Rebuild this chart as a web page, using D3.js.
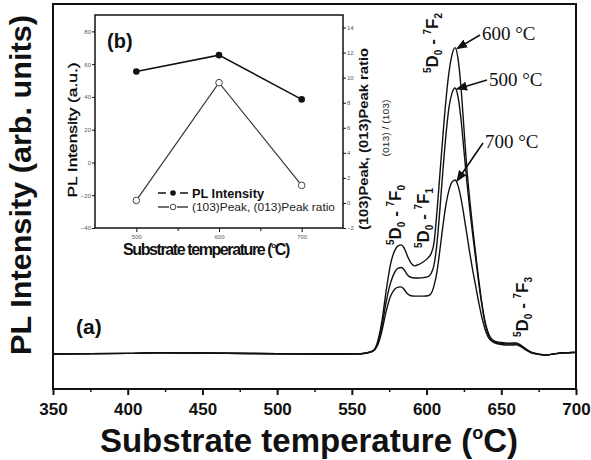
<!DOCTYPE html>
<html>
<head>
<meta charset="utf-8">
<script src="https://cdn.jsdelivr.net/npm/d3@7/dist/d3.min.js"></script>
<style>
  body { margin: 0; background: #fff; }
  svg { display: block; }
</style>
</head>
<body>
<svg id="chart" width="591" height="460"></svg>
<script>
// main spectra (a): wavelength grid and PL intensity for each substrate temperature
const wavelengths = [350, 400, 420, 450, 500, 540, 556, 560, 564, 567,
  570, 573, 576, 579, 581, 583, 585, 587, 589, 592,
  595, 598, 601, 603, 605, 607, 609, 611, 613, 615,
  617, 619, 621, 623, 625, 627, 629, 631, 633, 635,
  637, 639, 641, 643, 646, 650, 655, 660, 663, 666,
  670, 675, 680, 685, 690, 695, 700];
const pl600 = [0, 0.2, 0.4, 0.3, 0.1, 0, 0.1, 0.4, 1, 3.5,
  10, 20, 28.5, 32.8, 34, 34.3, 33.3, 31, 29, 27.7,
  28.2, 29, 30.2, 31.5, 35, 45, 57, 69, 80, 88.5,
  94, 96.3, 93, 84, 71, 58, 48, 39, 31, 23,
  16, 10.5, 7, 5, 4, 3.6, 3.4, 3.5, 2.8, 1.8,
  0.6, 0, -0.3, 0, 0.3, 0.4, 0.5];
const pl500 = [0, 0.2, 0.4, 0.3, 0.1, 0, 0.1, 0.4, 0.9, 3,
  8.5, 16.5, 22.5, 26, 27, 27.2, 26.5, 25, 24.2, 23.9,
  23.9, 24, 24.3, 25.3, 28, 35, 46, 58, 69, 77.5,
  82, 83.6, 81, 74, 64, 54, 45, 37, 29.5, 22,
  15.5, 10, 6.5, 4.6, 3.7, 3.3, 3.1, 3.2, 2.6, 1.6,
  0.5, -0.1, -0.3, 0, 0.3, 0.4, 0.5];
const pl700 = [0, 0.2, 0.4, 0.3, 0.1, 0, 0.1, 0.3, 0.8, 2.5,
  7, 13.5, 18.3, 20.5, 21, 21.1, 20.3, 19, 18.4, 18.2,
  18.2, 18.2, 18.3, 19, 21.5, 26, 33, 40.5, 47, 51.5,
  54, 54.7, 53, 49, 43.5, 37.5, 31.5, 26, 21, 16,
  11.5, 8, 5.5, 4.2, 3.4, 3, 2.8, 2.9, 2.3, 1.4,
  0.4, -0.1, -0.3, 0, 0.3, 0.4, 0.5];
const seriesNames = ["600 °C", "500 °C", "700 °C"];
const xTicks = [350, 400, 450, 500, 550, 600, 650, 700];

// inset (b)
const insetTemps = [500, 600, 700];
const insetIntensity = [55.5, 65.5, 38.5];
const insetRatio = [0.2, 9.6, 1.4];
const insetLeftTicks = [-40, -20, 0, 20, 40, 60, 80];
const insetRightTicks = [-2, 0, 2, 4, 6, 8, 10, 12, 14];
const insetXTicks = [500, 600, 700];

const svg = d3.select("#chart");
const sans = "'Liberation Sans', Arial, sans-serif";
const serif = "'Liberation Serif', 'Times New Roman', serif";

const mLeft = 53, mRight = 576, mTop = 4, mBottom = 389;

const x = d3.scaleLinear().domain([350, 700]).range([mLeft, mRight]);
const y = d3.scaleLinear().domain([-11, 110]).range([mBottom, mTop]);

// frame
svg.append("rect")
    .attr("x", mLeft).attr("y", mTop)
    .attr("width", mRight - mLeft).attr("height", mBottom - mTop)
    .attr("fill", "none").attr("stroke", "#111").attr("stroke-width", 2);

// bottom axis, major + minor
const xAxis = svg.append("g")
    .attr("transform", `translate(0,${mBottom})`)
    .call(d3.axisBottom(x).tickValues(xTicks).tickSize(6).tickSizeOuter(0).tickPadding(8));
xAxis.select(".domain").remove();
xAxis.selectAll("line").attr("stroke", "#111").attr("stroke-width", 2);
xAxis.selectAll("text")
    .attr("font-family", sans).attr("font-weight", "bold")
    .attr("font-size", 17).attr("fill", "#111");

const xMinor = svg.append("g")
    .attr("transform", `translate(0,${mBottom})`)
    .call(d3.axisBottom(x).tickValues(d3.range(375, 700, 50)).tickSize(3).tickFormat(""));
xMinor.select(".domain").remove();
xMinor.selectAll("line").attr("stroke", "#111").attr("stroke-width", 1.5);

// axis titles
const xTitle = svg.append("text")
    .attr("x", 309).attr("y", 452)
    .attr("text-anchor", "middle")
    .attr("font-family", sans).attr("font-weight", "bold")
    .attr("font-size", 33).attr("fill", "#111");
xTitle.append("tspan").text("Substrate temperature (");
xTitle.append("tspan").attr("font-size", 18).attr("dy", -13).text("o");
xTitle.append("tspan").attr("dy", 13).text("C)");

svg.append("text")
    .attr("transform", "translate(31,185) rotate(-90)")
    .attr("text-anchor", "middle")
    .attr("font-family", sans).attr("font-weight", "bold")
    .attr("font-size", 30).attr("fill", "#111")
    .attr("textLength", 340).attr("lengthAdjust", "spacingAndGlyphs")
    .text("PL Intensity (arb. units)");

// spectra
const line = d3.line()
    .x((d, i) => x(wavelengths[i]))
    .y(d => y(d))
    .curve(d3.curveMonotoneX);

const spectra = [pl600, pl500, pl700];
svg.append("g").selectAll("path")
    .data(spectra)
    .join("path")
    .attr("d", line)
    .attr("fill", "none")
    .attr("stroke", "#111")
    .attr("stroke-width", 1.4);

// arrows to the peaks
svg.append("defs").append("marker")
    .attr("id", "arrow")
    .attr("viewBox", "0 0 10 10")
    .attr("refX", 9).attr("refY", 5)
    .attr("markerWidth", 7).attr("markerHeight", 7)
    .attr("orient", "auto")
    .append("path").attr("d", "M0,1 L10,5 L0,9 Z").attr("fill", "#111");

const labelPos = [[482, 40], [489, 86], [485, 148]];
const tailPos = [[480, 35], [487, 80], [483, 143]];
spectra.forEach((s, i) => {
    const k = d3.maxIndex(s);
    svg.append("line")
        .attr("x1", tailPos[i][0]).attr("y1", tailPos[i][1])
        .attr("x2", x(wavelengths[k]) + 2).attr("y2", y(s[k]) + 1)
        .attr("stroke", "#111").attr("stroke-width", 1.6)
        .attr("marker-end", "url(#arrow)");
    svg.append("text")
        .attr("x", labelPos[i][0]).attr("y", labelPos[i][1])
        .attr("font-family", serif).attr("font-size", 19).attr("fill", "#111")
        .text(seriesNames[i]);
});

// transition labels
function transition(bx, by, lower) {
    const t = svg.append("text")
        .attr("transform", `translate(${bx},${by}) rotate(-90)`)
        .attr("font-family", sans).attr("font-weight", "bold")
        .attr("font-size", 17).attr("fill", "#111");
    t.append("tspan").attr("font-size", 10).attr("dy", -7).text("5");
    t.append("tspan").attr("dy", 7).text("D");
    t.append("tspan").attr("font-size", 10).attr("dy", 4).text("0");
    t.append("tspan").attr("dy", -4).text(" - ");
    t.append("tspan").attr("font-size", 10).attr("dy", -7).text("7");
    t.append("tspan").attr("dy", 7).text("F");
    t.append("tspan").attr("font-size", 10).attr("dy", 4).text(lower);
}
transition(438, 73, "2");
transition(401, 245, "0");
transition(429, 248, "1");
transition(528, 337, "3");

svg.append("text")
    .attr("x", 76).attr("y", 334)
    .attr("font-family", sans).attr("font-weight", "bold")
    .attr("font-size", 21).attr("fill", "#111")
    .text("(a)");

// ---------- inset (b) ----------
const il = 95, ir = 343, it = 15, ib = 228;
const xi = d3.scaleLinear().domain([450, 750]).range([il, ir]);
const yiL = d3.scaleLinear().domain([-40, 90]).range([ib, it]);
const yiR = d3.scaleLinear().domain([-2, 15]).range([ib, it]);

svg.append("rect")
    .attr("x", il).attr("y", it)
    .attr("width", ir - il).attr("height", ib - it)
    .attr("fill", "#fff").attr("stroke", "#111").attr("stroke-width", 1.5);

function styleSmall(g) {
    g.select(".domain").remove();
    g.selectAll("line").attr("stroke", "#111").attr("stroke-width", 1);
    g.selectAll("text").attr("font-family", sans).attr("font-size", 6).attr("fill", "#555");
}
svg.append("g").attr("transform", `translate(0,${ib})`)
    .call(d3.axisBottom(xi).tickValues(insetXTicks).tickSize(4).tickPadding(3))
    .call(styleSmall);
svg.append("g").attr("transform", `translate(0,${ib})`)
    .call(d3.axisBottom(xi).tickValues([550, 650]).tickSize(3).tickFormat(""))
    .call(styleSmall);
svg.append("g").attr("transform", `translate(${il},0)`)
    .call(d3.axisLeft(yiL).tickValues(insetLeftTicks).tickSize(3).tickPadding(1))
    .call(styleSmall);
svg.append("g").attr("transform", `translate(${ir},0)`)
    .call(d3.axisRight(yiR).tickValues(insetRightTicks).tickSize(3).tickPadding(1))
    .call(styleSmall);

// inset series
const lineL = d3.line().x((d, i) => xi(insetTemps[i])).y(d => yiL(d));
const lineR = d3.line().x((d, i) => xi(insetTemps[i])).y(d => yiR(d));

svg.append("path").attr("d", lineR(insetRatio))
    .attr("fill", "none").attr("stroke", "#333").attr("stroke-width", 1.2);
svg.append("path").attr("d", lineL(insetIntensity))
    .attr("fill", "none").attr("stroke", "#111").attr("stroke-width", 1.6);

svg.append("g").selectAll("circle")
    .data(insetRatio)
    .join("circle")
    .attr("cx", (d, i) => xi(insetTemps[i]))
    .attr("cy", d => yiR(d))
    .attr("r", 3.3)
    .attr("fill", "#fff").attr("stroke", "#444").attr("stroke-width", 1);
svg.append("g").selectAll("circle")
    .data(insetIntensity)
    .join("circle")
    .attr("cx", (d, i) => xi(insetTemps[i]))
    .attr("cy", d => yiL(d))
    .attr("r", 3.3)
    .attr("fill", "#111");

svg.append("text")
    .attr("x", 107).attr("y", 48)
    .attr("font-family", sans).attr("font-weight", "bold")
    .attr("font-size", 20).attr("fill", "#111")
    .text("(b)");

// inset legend
const lg = svg.append("g");
lg.append("line").attr("x1", 158).attr("x2", 166).attr("y1", 193).attr("y2", 193)
    .attr("stroke", "#111").attr("stroke-width", 1.5);
lg.append("line").attr("x1", 180).attr("x2", 188).attr("y1", 193).attr("y2", 193)
    .attr("stroke", "#111").attr("stroke-width", 1.5);
lg.append("circle").attr("cx", 173).attr("cy", 193).attr("r", 2.8).attr("fill", "#111");
lg.append("text").attr("x", 192).attr("y", 197.5)
    .attr("font-family", sans).attr("font-weight", "bold").attr("font-size", 13)
    .attr("fill", "#111")
    .attr("textLength", 72).attr("lengthAdjust", "spacingAndGlyphs")
    .text("PL Intensity");
lg.append("line").attr("x1", 158).attr("x2", 169).attr("y1", 207).attr("y2", 207)
    .attr("stroke", "#111").attr("stroke-width", 1.2);
lg.append("line").attr("x1", 177).attr("x2", 188).attr("y1", 207).attr("y2", 207)
    .attr("stroke", "#111").attr("stroke-width", 1.2);
lg.append("circle").attr("cx", 173).attr("cy", 207).attr("r", 2.8)
    .attr("fill", "#fff").attr("stroke", "#444").attr("stroke-width", 1);
lg.append("text").attr("x", 192).attr("y", 210.5)
    .attr("font-family", sans).attr("font-size", 10).attr("fill", "#222")
    .attr("textLength", 143).attr("lengthAdjust", "spacingAndGlyphs")
    .text("(103)Peak, (013)Peak ratio");

// inset axis titles
const ixt = svg.append("text")
    .attr("x", 123).attr("y", 255)
    .attr("font-family", sans).attr("font-weight", "bold").attr("font-size", 16).attr("fill", "#111")
    .attr("letter-spacing", -1.4);
ixt.append("tspan").text("Substrate temperature (");
ixt.append("tspan").attr("font-size", 8).attr("dy", -7).text("o");
ixt.append("tspan").attr("dy", 7).text("C)");

svg.append("text")
    .attr("transform", "translate(77,130) rotate(-90)")
    .attr("text-anchor", "middle")
    .attr("font-family", sans).attr("font-size", 13).attr("fill", "#000")
    .attr("stroke", "#000").attr("stroke-width", 0.3)
    .attr("textLength", 135).attr("lengthAdjust", "spacingAndGlyphs")
    .text("PL Intensity (a.u.)");

svg.append("text")
    .attr("transform", "translate(368,139) rotate(-90)")
    .attr("text-anchor", "middle")
    .attr("font-family", sans).attr("font-weight", "bold").attr("font-size", 13).attr("fill", "#111")
    .attr("textLength", 182).attr("lengthAdjust", "spacingAndGlyphs")
    .text("(103)Peak, (013)Peak ratio");

svg.append("text")
    .attr("transform", "translate(389,128) rotate(-90)")
    .attr("text-anchor", "middle")
    .attr("font-family", sans).attr("font-size", 9).attr("fill", "#222")
    .attr("textLength", 57).attr("lengthAdjust", "spacingAndGlyphs")
    .text("(013) / (103)");
</script>
</body>
</html>
